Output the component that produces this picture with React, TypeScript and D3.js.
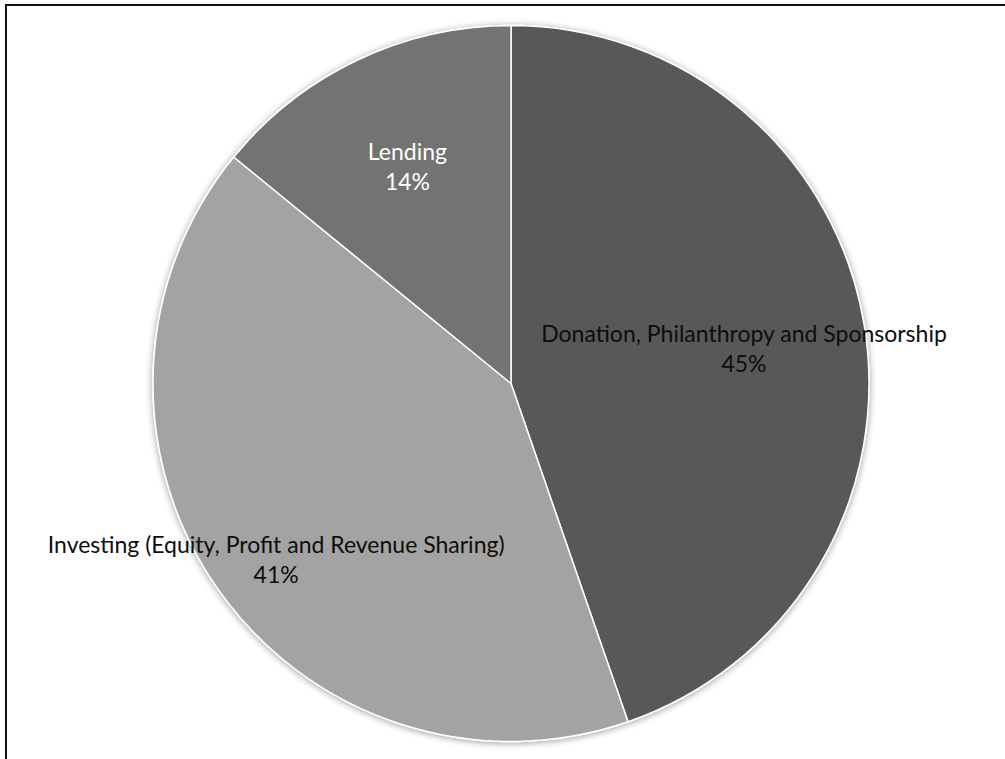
import React from "react";
import * as d3 from "d3";

const categories = [
  "Donation, Philanthropy and Sponsorship",
  "Investing (Equity, Profit and Revenue Sharing)",
  "Lending",
];
const values = [44.7, 41.2, 14.1];
const colors = ["#595959", "#a3a3a3", "#737373"];
const labelColors = ["#0d0d0d", "#0d0d0d", "#ffffff"];
const labelRadiusFactor = [0.66, 0.8, 0.675];
const labelShiftY = [4, 12, 1];

const W = 1005;
const H = 759;

export default function App() {
  const cx = 511;
  const cy = 383.5;
  const r = 358;
  const total = d3.sum(values);
  const pie = d3
    .pie<number>()
    .sort(null)
    .value((d) => d)(values);
  const arc = d3.arc<d3.PieArcDatum<number>>().innerRadius(0).outerRadius(r);

  return (
    <svg
      width={W}
      height={H}
      style={{ position: "absolute", left: 0, top: 0, background: "#fff" }}
    >
      <defs>
        <filter id="sh" x="-10%" y="-10%" width="120%" height="120%">
          <feGaussianBlur in="SourceAlpha" stdDeviation="3.5" />
          <feOffset dx="0" dy="1" result="b" />
          <feComponentTransfer>
            <feFuncA type="linear" slope="0.4" />
          </feComponentTransfer>
          <feMerge>
            <feMergeNode />
            <feMergeNode in="SourceGraphic" />
          </feMerge>
        </filter>
      </defs>
      <rect x={6} y={5} width={1100} height={900} fill="none" stroke="#111" strokeWidth={2} />
      <g transform={`translate(${cx},${cy})`}>
        <g filter="url(#sh)">
          {pie.map((p, i) => (
            <path
              key={i}
              d={arc(p) as string}
              fill={colors[i]}
              stroke="#ffffff"
              strokeWidth={1.5}
              strokeLinejoin="round"
            />
          ))}
        </g>
        {pie.map((p, i) => {
          const a = (p.startAngle + p.endAngle) / 2;
          const lr = r * labelRadiusFactor[i];
          const x = lr * Math.sin(a);
          const y = -lr * Math.cos(a) + labelShiftY[i];
          const pct = Math.round((values[i] / total) * 100) + "%";
          return (
            <text
              key={i}
              x={x}
              y={y}
              textAnchor="middle"
              fill={labelColors[i]}
              style={{ fontFamily: "Lato, 'Open Sans', sans-serif", fontSize: 23 }}
            >
              <tspan x={x} dy={-6}>{categories[i]}</tspan>
              <tspan x={x} dy={30}>{pct}</tspan>
            </text>
          );
        })}
      </g>
    </svg>
  );
}
